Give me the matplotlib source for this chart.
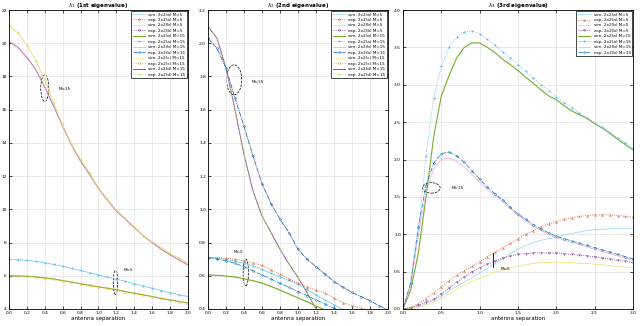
import matplotlib.pyplot as plt
from matplotlib.patches import Ellipse

# x grids (antenna separation)
xa = [0, 0.1, 0.2, 0.3, 0.4, 0.5, 0.6, 0.7, 0.8, 0.9, 1.0, 1.1, 1.2, 1.3, 1.4, 1.5, 1.6, 1.7, 1.8, 1.9, 2.0]
xb = [0, 0.1, 0.2, 0.3, 0.4, 0.5, 0.6, 0.7, 0.8, 0.9, 1.0, 1.1, 1.2, 1.3, 1.4, 1.5, 1.6, 1.7, 1.8, 1.9, 2.0,
      2.1, 2.2, 2.3, 2.4, 2.5, 2.6, 2.7, 2.8, 2.9, 3.0]

labels = ["sim. 2x2(a) M=5", "exp. 2x2(a) M=5", "sim. 2x2(b) M=5", "exp. 2x2(b) M=5",
          "sim. 2x2(a) M=15", "exp. 2x2(a) M=15", "sim. 2x2(b) M=15", "exp. 2x2(b) M=15",
          "sim. 2x2(c) M=15", "exp. 2x2(c) M=15", "sim. 2x2(d) M=15", "exp. 2x2(d) M=15"]

# 1st eigenvalue
l1_up_exp = [21.1, 20.6, 19.9, 18.95, 17.8, 16.4, 15.05, 13.9, 13.0, 12.2, 11.3, 10.6, 9.95, 9.45, 8.95, 8.4,
             8.05, 7.7, 7.35, 7.05, 6.75]
l1_up_sim = [20.1, 19.75, 19.15, 18.4, 17.35, 16.2, 15.0, 13.85, 12.9, 12.1, 11.25, 10.55, 9.9, 9.4, 8.9, 8.4,
             8.0, 7.6, 7.25, 6.95, 6.65]
l1_lo_a = [7.0, 6.97, 6.93, 6.87, 6.78, 6.68, 6.57, 6.45, 6.32, 6.18, 6.05, 5.92, 5.8, 5.66, 5.52, 5.38, 5.25,
           5.11, 4.98, 4.86, 4.75]
l1_lo_b = [6.0, 5.99, 5.97, 5.93, 5.87, 5.8, 5.71, 5.62, 5.52, 5.42, 5.33, 5.25, 5.16, 5.05, 4.95, 4.85, 4.75,
           4.64, 4.54, 4.45, 4.36]

# 2nd eigenvalue
l2_left = [2.1, 2.03, 1.85, 1.6, 1.33, 1.11, 0.96, 0.86, 0.76, 0.67, 0.59, 0.5, 0.4, 0.32, 0.25, 0.2, 0.16,
           0.13, 0.1, 0.08, 0.06]
l2_right = [2.03, 1.97, 1.85, 1.67, 1.5, 1.32, 1.155, 1.035, 0.94, 0.86, 0.76, 0.7, 0.655, 0.61, 0.565, 0.53,
            0.5, 0.475, 0.45, 0.42, 0.395]
l2_cyan = [0.71, 0.705, 0.698, 0.688, 0.675, 0.66, 0.638, 0.615, 0.593, 0.572, 0.548, 0.518, 0.484, 0.454,
           0.425, 0.398, 0.372, 0.35, 0.33, 0.305, 0.28]
l2_orange = [0.71, 0.71, 0.705, 0.7, 0.69, 0.678, 0.662, 0.635, 0.608, 0.582, 0.556, 0.533, 0.514, 0.496,
             0.467, 0.438, 0.42, 0.406, 0.39, 0.375, 0.36]
l2_green = [0.605, 0.603, 0.598, 0.592, 0.582, 0.57, 0.556, 0.536, 0.514, 0.49, 0.467, 0.444, 0.418, 0.395,
            0.37, 0.35, 0.33, 0.31, 0.29, 0.27, 0.25]
l2_blue = [0.71, 0.7, 0.69, 0.675, 0.655, 0.63, 0.605, 0.58, 0.555, 0.53, 0.505, 0.48, 0.455, 0.43, 0.405,
           0.38, 0.36, 0.34, 0.32, 0.3, 0.28]

# 3rd eigenvalue
l3_green = [0, 0.25, 0.75, 1.5, 2.3, 2.85, 3.12, 3.36, 3.5, 3.56, 3.56, 3.5, 3.43, 3.34, 3.27, 3.19, 3.1, 3.02,
            2.93, 2.85, 2.8, 2.72, 2.65, 2.6, 2.55, 2.48, 2.42, 2.35, 2.27, 2.2, 2.13]
l3_cyan = [0, 0.35, 1.0, 2.05, 2.82, 3.25, 3.5, 3.64, 3.71, 3.72, 3.68, 3.61, 3.53, 3.44, 3.36, 3.27, 3.18,
           3.09, 3.0, 2.92, 2.84, 2.76, 2.69, 2.62, 2.56, 2.49, 2.43, 2.36, 2.29, 2.22, 2.15]
l3_pink = [0, 0.3, 1.0, 1.55, 1.88, 2.0, 2.02, 1.98, 1.9, 1.8, 1.7, 1.6, 1.52, 1.44, 1.34, 1.25, 1.18, 1.11,
           1.05, 1.0, 0.95, 0.92, 0.89, 0.86, 0.83, 0.8, 0.77, 0.74, 0.71, 0.68, 0.65]
l3_blue = [0, 0.35, 1.1, 1.65, 1.95, 2.08, 2.1, 2.05, 1.96, 1.85, 1.74, 1.63, 1.54, 1.46, 1.36, 1.27, 1.2,
           1.13, 1.07, 1.02, 0.97, 0.94, 0.91, 0.88, 0.85, 0.82, 0.79, 0.76, 0.73, 0.7, 0.67]
l3_brown = [0, 0.02, 0.07, 0.14, 0.22, 0.3, 0.38, 0.45, 0.51, 0.57, 0.63, 0.7, 0.76, 0.82, 0.88, 0.94, 1.0,
            1.05, 1.1, 1.14, 1.17, 1.2, 1.22, 1.24, 1.25, 1.26, 1.26, 1.26, 1.25, 1.24, 1.23]
l3_lcyan = [0, 0.01, 0.03, 0.07, 0.12, 0.17, 0.24, 0.3, 0.36, 0.42, 0.48, 0.54, 0.61, 0.67, 0.74, 0.8, 0.85,
            0.89, 0.92, 0.94, 0.96, 0.99, 1.01, 1.03, 1.05, 1.06, 1.07, 1.07, 1.08, 1.08, 1.08]
l3_purple = [0, 0.02, 0.05, 0.09, 0.13, 0.2, 0.28, 0.36, 0.43, 0.5, 0.55, 0.6, 0.64, 0.68, 0.71, 0.73, 0.74,
             0.75, 0.75, 0.75, 0.75, 0.74, 0.73, 0.72, 0.71, 0.7, 0.68, 0.67, 0.65, 0.64, 0.62]
l3_yellow = [0, 0.005, 0.02, 0.05, 0.09, 0.14, 0.2, 0.26, 0.32, 0.37, 0.41, 0.45, 0.49, 0.52, 0.55, 0.57,
             0.59, 0.61, 0.62, 0.62, 0.63, 0.62, 0.62, 0.61, 0.61, 0.6, 0.59, 0.58, 0.57, 0.56, 0.55]

# legend entry styles: color, linestyle, marker, linewidth
styles = [
    ("#8ad8f0", "-", None, 0.5),
    ("#d95319", ":", "^", 0.6),
    ("#f0dc6a", "-", None, 0.5),
    ("#7e2f8e", ":", "v", 0.6),
    ("#77ac30", "-", None, 0.8),
    ("#4dbeee", ":", "*", 0.6),
    ("#f4a6c8", "-", None, 0.5),
    ("#0072bd", "-.", "o", 0.5),
    ("#f7ef9a", "-", None, 0.5),
    ("#edb120", ":", "s", 0.6),
    ("#7e2f8e", "-", None, 0.6),
    ("#b8dc70", ":", "d", 0.6),
]


def draw(ax, x, y, k):
    c, ls, mk, lw = styles[k]
    return ax.plot(x, y, color=c, ls=ls, marker=mk, lw=lw, ms=1.3, mew=0.35,
                   mfc="none" if mk else None, label=labels[k])[0]


plt.rcParams["font.family"] = "DejaVu Sans"
fig = plt.figure(figsize=(6.4, 3.26), dpi=100)
ax1 = fig.add_axes([9 / 640, 17 / 326, 179 / 640, 299 / 326])
ax2 = fig.add_axes([208 / 640, 17 / 326, 180 / 640, 299 / 326])
ax3 = fig.add_axes([403 / 640, 17 / 326, 230 / 640, 299 / 326])

# panel 1
draw(ax1, xa, l1_lo_a, 0)
draw(ax1, xa, l1_lo_a, 5)
draw(ax1, xa, l1_lo_b, 4)
draw(ax1, xa, l1_lo_b, 9)
draw(ax1, xa, l1_up_sim, 10)
draw(ax1, xa, l1_up_sim, 6)
draw(ax1, xa, l1_up_exp, 11)
draw(ax1, xa, l1_up_exp, 2)

# panel 2
draw(ax2, xa, l2_left, 10)
draw(ax2, xa, l2_left, 11)
draw(ax2, xa, l2_right, 6)
draw(ax2, xa, l2_right, 7)
draw(ax2, xa, l2_cyan, 0)
draw(ax2, xa, l2_cyan, 5)
draw(ax2, xa, l2_orange, 1)
draw(ax2, xa, l2_green, 2)
draw(ax2, xa, l2_green, 4)
draw(ax2, xa, l2_blue, 7)

# panel 3
draw(ax3, xb, l3_lcyan, 0)
draw(ax3, xb, l3_brown, 1)
draw(ax3, xb, l3_yellow, 2)
draw(ax3, xb, l3_purple, 3)
draw(ax3, xb, l3_green, 4)
draw(ax3, xb, l3_cyan, 5)
draw(ax3, xb, l3_pink, 6)
draw(ax3, xb, l3_blue, 7)

titles = ["$\\lambda_1$ (1st eigenvalue)", "$\\lambda_2$ (2nd eigenvalue)", "$\\lambda_3$ (3rd eigenvalue)"]
for ax, t in zip([ax1, ax2, ax3], titles):
    ax.set_title(t, fontsize=4, pad=2, fontweight="bold")
    ax.set_xlabel("antenna separation", fontsize=4, labelpad=1)
    ax.grid(True, color="#e2e2e2", lw=0.5)
    ax.tick_params(direction="in", labelsize=3.2, length=2, width=0.5, pad=1.5,
                   top=True, right=True)
    for s in ax.spines.values():
        s.set_linewidth(0.6)

ax1.set_xlim(0, 2)
ax1.set_ylim(4, 22)
ax1.set_xticks(xa[::2])
ax1.set_yticks([4, 6, 8, 10, 12, 14, 16, 18, 20, 22])
ax2.set_xlim(0, 2)
ax2.set_ylim(0.4, 2.2)
ax2.set_xticks(xa[::2])
ax2.set_yticks([0.4, 0.6, 0.8, 1.0, 1.2, 1.4, 1.6, 1.8, 2.0, 2.2])
ax3.set_xlim(0, 3)
ax3.set_ylim(0, 4)
ax3.set_xticks([0, 0.5, 1, 1.5, 2, 2.5, 3])
ax3.set_yticks([0, 0.5, 1, 1.5, 2, 2.5, 3, 3.5, 4])

# annotations
ann = dict(fill=False, lw=0.5, ls="--", ec="black")
ax1.add_patch(Ellipse((0.4, 17.3), 0.09, 1.6, **ann))
ax1.text(0.55, 17.2, "M=15", fontsize=3)
ax1.add_patch(Ellipse((1.19, 5.6), 0.05, 1.45, **ann))
ax1.text(1.28, 6.3, "M=5", fontsize=3)
ax2.add_patch(Ellipse((0.29, 1.78), 0.17, 0.18, **ann))
ax2.text(0.49, 1.76, "M=15", fontsize=3)
ax2.add_patch(Ellipse((0.42, 0.62), 0.06, 0.16, **ann))
ax2.text(0.28, 0.74, "M=5", fontsize=3)
ax3.add_patch(Ellipse((0.37, 1.62), 0.23, 0.14, **ann))
ax3.text(0.64, 1.6, "M=15", fontsize=3)
ax3.plot([1.17, 1.17], [0.56, 0.75], color="black", lw=0.6)
ax3.text(1.27, 0.52, "M=5", fontsize=3)

leg = dict(loc="upper right", fontsize=3, handlelength=3.0, borderpad=0.3, labelspacing=0.35,
           framealpha=1, edgecolor="black", fancybox=False, borderaxespad=0.3)
h = [plt.Line2D([], [], color=s[0], ls=s[1], marker=s[2], lw=s[3], ms=1.3, mew=0.35,
                mfc="none" if s[2] else None) for s in styles]
ax1.legend(h, labels, **leg).get_frame().set_linewidth(0.5)
ax2.legend(h, labels, **leg).get_frame().set_linewidth(0.5)
ax3.legend(h[:8], labels[:8], **leg).get_frame().set_linewidth(0.5)

fig.savefig("out.png", dpi=100)
